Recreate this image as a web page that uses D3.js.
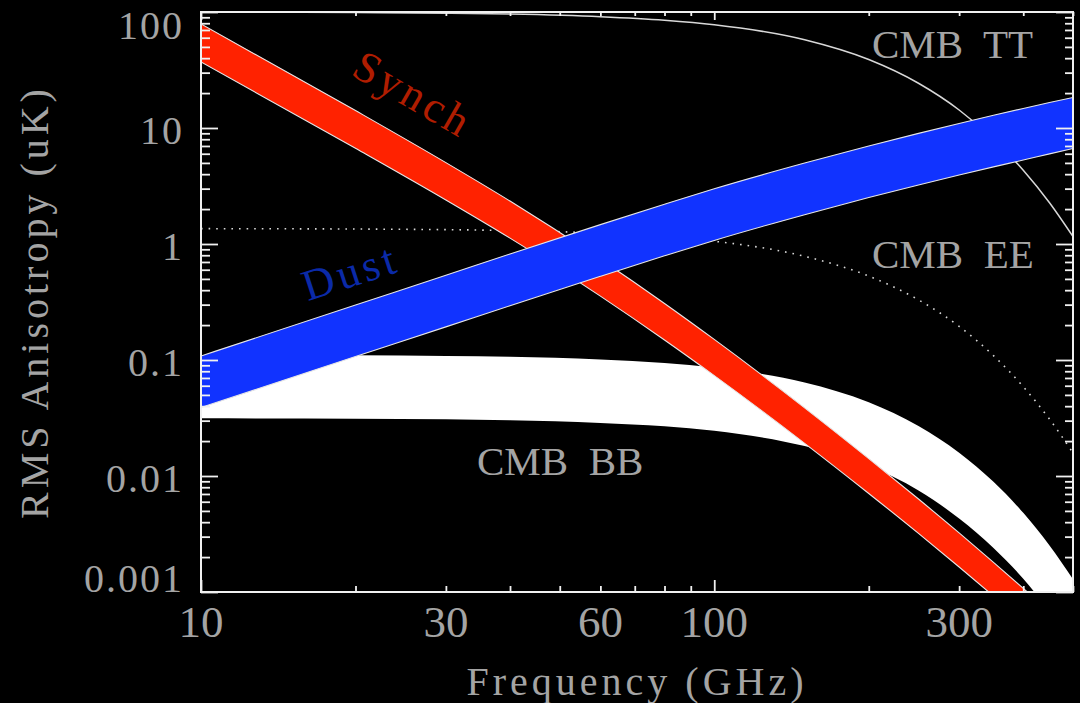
<!DOCTYPE html>
<html>
<head>
<meta charset="utf-8">
<script src="https://cdn.jsdelivr.net/npm/d3@7"></script>
<style>
  html, body { margin: 0; padding: 0; background: #000; }
  svg { display: block; }
  text { font-family: "Liberation Serif", "Times New Roman", serif; }
</style>
</head>
<body>
<div id="chart"></div>
<script>
//////////////////////////////////////////////////////////////////////
// Data (frequency in GHz, amplitude in uK)
//////////////////////////////////////////////////////////////////////
const freqs = [10, 20, 30, 40, 60, 80, 100, 150, 200, 250, 300, 350, 400, 450, 500];

const cmbTT = [99.7, 99.0, 97.7, 96.0, 91.2, 85.0, 77.7, 57.6, 38.9, 24.3, 14.3, 8.0, 4.33, 2.27, 1.16];
const cmbEE = [1.356, 1.346, 1.329, 1.306, 1.240, 1.156, 1.057, 0.783, 0.529, 0.330, 0.195, 0.109, 0.0589, 0.0309, 0.0158];

const cmbBBUpper = [0.1107, 0.1099, 0.1084, 0.1066, 0.1012, 0.0944, 0.0862, 0.0639, 0.0432, 0.0270, 0.01588, 0.0089, 0.00481, 0.00252, 0.00129];
const cmbBBLower = [0.0314, 0.0312, 0.0308, 0.0302, 0.0287, 0.0268, 0.0245, 0.0181, 0.01225, 0.0075, 0.0043, 0.0024, 0.00130, 0.00068, 0.00035];

const synchUpper = [78.9, 14.14, 5.03, 2.346, 0.739, 0.3073, 0.1505, 0.0387, 0.01413, 0.00633, 0.00323, 0.0018, 0.001076, 0.000679, 0.000448];
const synchLower = [37.07, 6.69, 2.397, 1.123, 0.3555, 0.1488, 0.0734, 0.01913, 0.00707, 0.0032, 0.001643, 0.000923, 0.000555, 0.000352, 0.000233];

const dustUpper = [0.1083, 0.298, 0.538, 0.820, 1.469, 2.204, 2.992, 4.986, 7.004, 8.99, 10.95, 12.87, 14.75, 16.58, 18.35];
const dustLower = [0.0389, 0.107, 0.193, 0.294, 0.527, 0.791, 1.074, 1.790, 2.514, 3.227, 3.93, 4.62, 5.29, 5.98, 6.65];

// Axis ticks and labels
const xMajorTicks = [10, 100];
const xTickLabels = [10, 30, 60, 100, 300];
const yTickLabels = [100, 10, 1, 0.1, 0.01, 0.001];

//////////////////////////////////////////////////////////////////////
// Setup
//////////////////////////////////////////////////////////////////////
const width = 1080;
const height = 703;
const plot = {left: 201, right: 1073, top: 12, bottom: 592};

const textGray = '#a4a4a4';
const axisColor = '#f0f0f0';

const svg = d3.select('#chart')
    .append('svg')
    .attr('width', width)
    .attr('height', height)
    .style('background', '#000');

const x = d3.scaleLog().domain([10, 500]).range([plot.left, plot.right]);
const y = d3.scaleLog().domain([0.001, 100]).range([plot.bottom, plot.top]);

svg.append('defs').append('clipPath')
    .attr('id', 'plot-clip')
    .append('rect')
    .attr('x', plot.left)
    .attr('y', plot.top)
    .attr('width', plot.right - plot.left)
    .attr('height', plot.bottom - plot.top);

const g = svg.append('g').attr('clip-path', 'url(#plot-clip)');

//////////////////////////////////////////////////////////////////////
// Helpers
//////////////////////////////////////////////////////////////////////
function _line(values) {
    return d3.line()
        .x((d, i) => x(freqs[i]))
        .y((d, i) => y(values[i]))
        .curve(d3.curveMonotoneX)(freqs);
}

function _area(lower, upper) {
    return d3.area()
        .x((d, i) => x(freqs[i]))
        .y0((d, i) => y(lower[i]))
        .y1((d, i) => y(upper[i]))
        .curve(d3.curveMonotoneX)(freqs);
}

function _band(lower, upper, fill, outline) {
    g.append('path')
        .attr('d', _area(lower, upper))
        .attr('fill', fill);
    if (outline) {
        [lower, upper].forEach(edge => {
            g.append('path')
                .attr('d', _line(edge))
                .attr('fill', 'none')
                .attr('stroke', '#e6e6e6')
                .attr('stroke-width', 1.1);
        });
    }
}

//////////////////////////////////////////////////////////////////////
// CMB TT / EE curves (drawn first so the bands cover them)
//////////////////////////////////////////////////////////////////////
g.append('path')
    .attr('d', _line(cmbTT))
    .attr('fill', 'none')
    .attr('stroke', '#d8d8d8')
    .attr('stroke-width', 1.5);

g.append('path')
    .attr('d', _line(cmbEE))
    .attr('fill', 'none')
    .attr('stroke', '#d8d8d8')
    .attr('stroke-width', 1.6)
    .attr('stroke-dasharray', '1.6,6');

// Bands: BB underneath, then synchrotron, then dust on top
_band(cmbBBLower, cmbBBUpper, '#ffffff', false);
_band(synchLower, synchUpper, '#ff2200', true);
_band(dustLower, dustUpper, '#1133ff', true);

//////////////////////////////////////////////////////////////////////
// Axes: frame with inward ticks on all four sides
//////////////////////////////////////////////////////////////////////
const xMinorTicks = x.ticks().filter(d => !xMajorTicks.includes(d));
const yMajorTicks = yTickLabels;
const yMinorTicks = y.ticks().filter(d => !yMajorTicks.some(m => Math.abs(m - d) < d * 1e-6));

function _ticks(axis, values, size, transform) {
    const a = svg.append('g')
        .attr('transform', transform)
        .call(axis.tickValues(values).tickSize(-size).tickFormat(''));
    a.select('.domain').remove();
    a.selectAll('line').attr('stroke', axisColor).attr('stroke-width', 1.8);
}

_ticks(d3.axisBottom(x), xMajorTicks, 12, `translate(0,${plot.bottom})`);
_ticks(d3.axisBottom(x), xMinorTicks, 6, `translate(0,${plot.bottom})`);
_ticks(d3.axisTop(x), xMajorTicks, 8, `translate(0,${plot.top})`);
_ticks(d3.axisTop(x), xMinorTicks, 4, `translate(0,${plot.top})`);
_ticks(d3.axisLeft(y), yMajorTicks, 17, `translate(${plot.left},0)`);
_ticks(d3.axisLeft(y), yMinorTicks, 9, `translate(${plot.left},0)`);
_ticks(d3.axisRight(y), yMajorTicks, 17, `translate(${plot.right},0)`);
_ticks(d3.axisRight(y), yMinorTicks, 8, `translate(${plot.right},0)`);

svg.append('rect')
    .attr('x', plot.left)
    .attr('y', plot.top)
    .attr('width', plot.right - plot.left)
    .attr('height', plot.bottom - plot.top)
    .attr('fill', 'none')
    .attr('stroke', axisColor)
    .attr('stroke-width', 2);

// Tick labels
svg.selectAll('.x-label')
    .data(xTickLabels)
    .enter()
    .append('text')
    .attr('class', 'x-label')
    .attr('x', d => x(d))
    .attr('y', 637)
    .attr('text-anchor', 'middle')
    .attr('font-size', 45)
    .attr('fill', textGray)
    .text(d => d);

svg.selectAll('.y-label')
    .data(yTickLabels)
    .enter()
    .append('text')
    .attr('class', 'y-label')
    .attr('x', 184)
    .attr('y', d => Math.min(Math.max(y(d) + 2, plot.top + 13), plot.bottom - 13.5) + 13.5)
    .attr('text-anchor', 'end')
    .attr('font-size', 40)
    .attr('letter-spacing', 2)
    .attr('fill', textGray)
    .text(d => d);

// Axis titles
svg.append('text')
    .attr('x', (plot.left + plot.right) / 2)
    .attr('y', 695)
    .attr('text-anchor', 'middle')
    .attr('font-size', 40)
    .attr('letter-spacing', 4)
    .attr('fill', textGray)
    .text('Frequency (GHz)');

svg.append('text')
    .attr('transform', `translate(48,${(plot.top + plot.bottom) / 2}) rotate(-90)`)
    .attr('text-anchor', 'middle')
    .attr('font-size', 40)
    .attr('letter-spacing', 4)
    .attr('fill', textGray)
    .text('RMS Anisotropy (uK)');

//////////////////////////////////////////////////////////////////////
// In-plot labels
//////////////////////////////////////////////////////////////////////
const cmbLabels = [
    {text: 'CMB  TT', x: 872, y: 58},
    {text: 'CMB  EE', x: 872, y: 268},
    {text: 'CMB  BB', x: 477, y: 475}
];

svg.selectAll('.cmb-label')
    .data(cmbLabels)
    .enter()
    .append('text')
    .attr('class', 'cmb-label')
    .attr('x', d => d.x)
    .attr('y', d => d.y)
    .attr('font-size', 41)
    .attr('fill', textGray)
    .style('white-space', 'pre')
    .text(d => d.text);

svg.append('text')
    .attr('transform', 'translate(406,107) rotate(30)')
    .attr('text-anchor', 'middle')
    .attr('font-size', 44)
    .attr('letter-spacing', 4)
    .attr('fill', '#b01d00')
    .text('Synch');

svg.append('text')
    .attr('transform', 'translate(355,286) rotate(-18)')
    .attr('text-anchor', 'middle')
    .attr('font-size', 44)
    .attr('letter-spacing', 4)
    .attr('fill', '#0b2aa8')
    .text('Dust');
</script>
</body>
</html>
